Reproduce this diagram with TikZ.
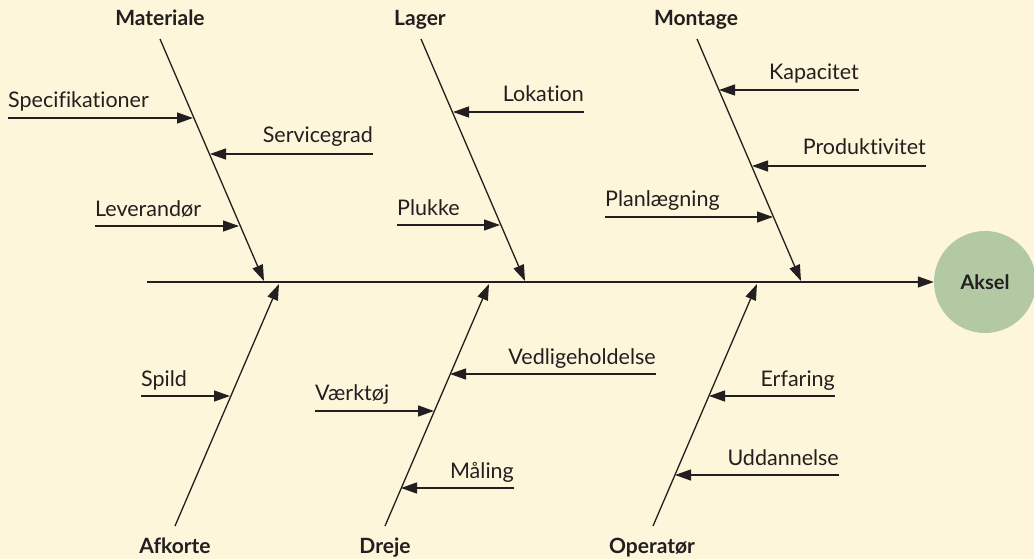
\documentclass[tikz,border=0pt]{standalone}
\usepackage{fontspec}
\setmainfont{Lato}[Ligatures={NoCommon,NoRare}]
\usetikzlibrary{arrows.meta}

\definecolor{paper}{HTML}{FEF6DA}
\definecolor{sage}{HTML}{B2C9A4}
\definecolor{ink}{HTML}{231F20}

\tikzset{
  cause/.style={anchor=base, text=ink, inner sep=0pt,
    font=\fontsize{21}{25}\selectfont\bfseries},
  factor/.style={text=ink, inner sep=0pt,
    font=\fontsize{21.5}{25}\selectfont},
  effect/.style={circle, fill=sage, minimum size=102pt, inner sep=0pt,
    text=ink, font=\fontsize{20}{24}\selectfont\bfseries},
  bone/.style={draw=ink, line width=1.3pt,
    -{Triangle[length=16pt,width=11pt]}},
}

\begin{document}
\begin{tikzpicture}[x=1pt,y=-1pt]
  \useasboundingbox[fill=paper] (0,0) rectangle (1034,559);

  % effect and spine
  \node[effect] (aksel) at (985,282) {Aksel};
  \coordinate (tail) at (147,282);

  % main causes
  \draw
    (160,26) node[cause] (mat){Materiale}
    (420,26) node[cause] (lag){Lager}
    (696,26) node[cause] (mon){Montage}
    (175,553) node[cause] (afk){Afkorte}
    (385,553) node[cause] (dre){Dreje}
    (652,553) node[cause] (ope){Operatør};

  % bone ends
  \coordinate (mat0) at (160,39);  \coordinate (mat1) at (264,281);
  \coordinate (lag0) at (421,39);  \coordinate (lag1) at (525,281);
  \coordinate (mon0) at (697,39);  \coordinate (mon1) at (801,281);
  \coordinate (afk0) at (175,526); \coordinate (afk1) at (279,284);
  \coordinate (dre0) at (385,526); \coordinate (dre1) at (489,284);
  \coordinate (ope0) at (653,526); \coordinate (ope1) at (757,284);

  % sub causes, left to right
  \draw
    (8,108)   node[factor, anchor=base west] (spec){Specifikationer}
    (373,143) node[factor, anchor=base east] (serv){Servicegrad}
    (95,216)  node[factor, anchor=base west] (lev){Leverandør}
    (584,102) node[factor, anchor=base east] (lok){Lokation}
    (397,215) node[factor, anchor=base west] (pluk){Plukke}
    (859,80)  node[factor, anchor=base east] (kap){Kapacitet}
    (926,155) node[factor, anchor=base east] (prod){Produktivitet}
    (605,207) node[factor, anchor=base west] (plan){Planlægning}
    (141,386) node[factor, anchor=base west] (spild){Spild}
    (315,400) node[factor, anchor=base west] (vaerk){Værktøj}
    (656,364) node[factor, anchor=base east] (vedl){Vedligeholdelse}
    (514,478) node[factor, anchor=base east] (maal){Måling}
    (835,386) node[factor, anchor=base east] (erf){Erfaring}
    (839,465) node[factor, anchor=base east] (udd){Uddannelse};

  \coordinate (spec0) at (8,118);    \coordinate (spec1) at (193,118);
  \coordinate (serv0) at (373,154);  \coordinate (serv1) at (210,154);
  \coordinate (lev0) at (95,226);    \coordinate (lev1) at (239,226);
  \coordinate (lok0) at (584,112);   \coordinate (lok1) at (453,112);
  \coordinate (pluk0) at (397,225);  \coordinate (pluk1) at (500,225);
  \coordinate (kap0) at (859,90);    \coordinate (kap1) at (719,90);
  \coordinate (prod0) at (926,166);  \coordinate (prod1) at (752,166);
  \coordinate (plan0) at (605,217);  \coordinate (plan1) at (773,217);
  \coordinate (spild0) at (141,396); \coordinate (spild1) at (230,396);
  \coordinate (vaerk0) at (315,411); \coordinate (vaerk1) at (434,411);
  \coordinate (vedl0) at (656,374);  \coordinate (vedl1) at (450,374);
  \coordinate (maal0) at (514,488);  \coordinate (maal1) at (401,488);
  \coordinate (erf0) at (835,396);   \coordinate (erf1) at (709,396);
  \coordinate (udd0) at (839,475);   \coordinate (udd1) at (675,475);

  \begin{scope}[bone]
    \draw (tail) to (aksel);
    \draw (mat0) to (mat1);
    \draw (lag0) to (lag1);
    \draw (mon0) to (mon1);
    \draw (afk0) to (afk1);
    \draw (dre0) to (dre1);
    \draw (ope0) to (ope1);
    \draw (spec0) to (spec1);
    \draw (serv0) to (serv1);
    \draw (lev0) to (lev1);
    \draw (lok0) to (lok1);
    \draw (pluk0) to (pluk1);
    \draw (kap0) to (kap1);
    \draw (prod0) to (prod1);
    \draw (plan0) to (plan1);
    \draw (spild0) to (spild1);
    \draw (vaerk0) to (vaerk1);
    \draw (vedl0) to (vedl1);
    \draw (maal0) to (maal1);
    \draw (erf0) to (erf1);
    \draw (udd0) to (udd1);
  \end{scope}
\end{tikzpicture}
\end{document}
